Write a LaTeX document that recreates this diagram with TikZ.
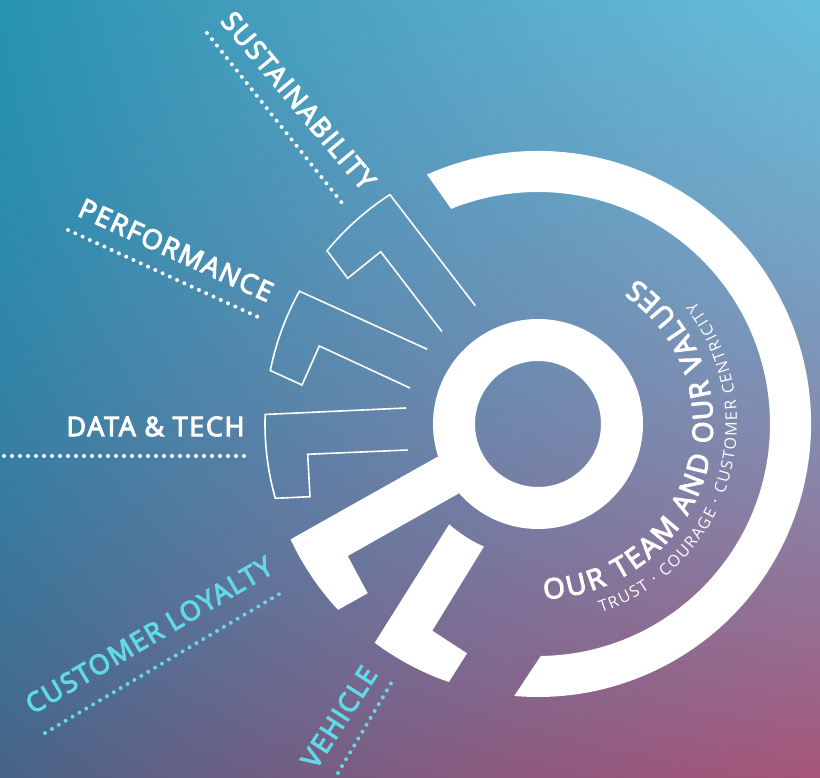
\documentclass[tikz,border=0pt]{standalone}
\usepackage{fontspec}
\setmainfont{Open Sans}
\newfontfamily\semifont[FakeBold=4,LetterSpace=6]{Open Sans}
\newfontfamily\arcfont[FakeBold=4]{Open Sans}
\newfontfamily\subfont{Open Sans}
\usetikzlibrary{decorations.text,calc}
\definecolor{cyantxt}{RGB}{98,217,232}
\pgfdeclarefunctionalshading{bggrad}{\pgfpointorigin}{\pgfpoint{100bp}{100bp}}{}{
 25 sub 50 div exch 25 sub 50 div exch 1 exch sub
 1 index -50 mul 1 index 32 mul add 113 add 2 index mul 1 index 18 mul 15 add 2 index mul add 37 add 255 div 3 1 roll
 1 index 8 mul 1 index -58 mul add 35 add 2 index mul 1 index -28 mul -19 add 2 index mul add 147 add 255 div 3 1 roll
 1 index -2 mul 1 index -58 mul add 45 add 2 index mul 1 index -42 mul 2 add 2 index mul add 175 add 255 div 3 1 roll
 pop pop
}
\tikzset{
 outlinew/.style={draw=white,line width=1.6pt,line join=miter,fill=none},
 dotsw/.style={line width=4pt,line cap=round,dash pattern=on 0pt off 8pt},
 lbl/.style={inner sep=0pt,font=\semifont\fontsize{27}{30}\selectfont}
}
\begin{document}
\begin{tikzpicture}[x=1pt,y=1pt]
\useasboundingbox (0,0) rectangle (820,778);
\path[shading=bggrad] (0,0) rectangle (820,778);
\coordinate (c) at (538,354);
% large arc
\fill[white] ($(c)+(114:273)$) arc[start angle=114,end angle=-95,radius=273pt]
  -- ($(c)+(-89.3:232)$) arc[start angle=-89.3,end angle=112,radius=232pt] -- cycle;
% ring
\fill[white,even odd rule] (c) circle[radius=105pt] (c) circle[radius=63pt];
% handle
\fill[white] (437.7,321.3) -- ($(c)+(205:273)$) arc[start angle=205,end angle=222.9,radius=273pt]
  -- (367.7,184.7) -- (347.7,222) -- (459,284.7) -- cycle;
% L shape
\fill[white] ($(c)+(228.5:134)$) arc[start angle=228.5,end angle=246.2,radius=134pt]
  -- (432.3,147.3) -- (467,124.7) -- ($(c)+(250.95:273)$) arc[start angle=250.95,end angle=233.25,radius=273pt] -- cycle;
% outlines
\draw[outlinew] (406,370) -- ($(c)+(178:273)$) arc[start angle=178,end angle=195.8,radius=273pt]
  -- (310,281.3) -- (307.7,323.7) -- (407.7,328);
\draw[outlinew] (427.3,428.7) -- ($(c)+(150.9:273)$) arc[start angle=150.9,end angle=168.7,radius=273pt]
  -- (302,393) -- (319.3,432) -- (410,390);
\draw[outlinew] (475.3,472.3) -- ($(c)+(122.85:273)$) arc[start angle=122.85,end angle=140.6,radius=273pt]
  -- (347.7,499.7) -- (380.7,526.3) -- (442,446.3);
% dots
\coordinate (d1a) at (207,745); \coordinate (d1b) at (342,575);
\coordinate (d2a) at (68,548); \coordinate (d2b) at (258,461);
\coordinate (d3a) at (4,322); \coordinate (d3b) at (247,322);
\coordinate (d4a) at (45,45); \coordinate (d4b) at (281,185);
\coordinate (d5a) at (338,5); \coordinate (d5b) at (393,98);
\draw[white,dotsw] (d1a) -- (d1b);
\draw[white,dotsw] (d2a) -- (d2b);
\draw[white,dotsw] (d3a) -- (d3b);
\draw[cyantxt,dotsw] (d4a) -- (d4b);
\draw[cyantxt,dotsw] (d5a) -- (d5b);
% labels
\node[lbl,white,rotate=-50] (sus) at (298.5,677.5) {SUSTAINABILITY};
\node[lbl,white,rotate=-24.5] (perf) at (176,528) {PERFORMANCE};
\node[lbl,white] (data) at (155.5,351.5) {DATA \& TECH};
\node[lbl,cyantxt,rotate=30.5] (loy) at (149,143) {CUSTOMER LOYALTY};
\node[lbl,cyantxt,rotate=57] (veh) at (339,61) {VEHICLE};
% arc text
\path[decorate,decoration={text along path,text color=white,
  text={|\arcfont\fontsize{28}{30}\selectfont|OUR TEAM AND OUR VALUES},text align={fit to path}}]
  ($(c)+(-88:175)$) arc[start angle=-88,end angle=56,radius=175pt];
\path[decorate,decoration={text along path,text color=white,
  text={|\subfont\fontsize{16}{18}\selectfont|TRUST · COURAGE · CUSTOMER CENTRICITY},text align={fit to path}}]
  ($(c)+(-71.5:199)$) arc[start angle=-71.5,end angle=38,radius=199pt];
\end{tikzpicture}
\end{document}
